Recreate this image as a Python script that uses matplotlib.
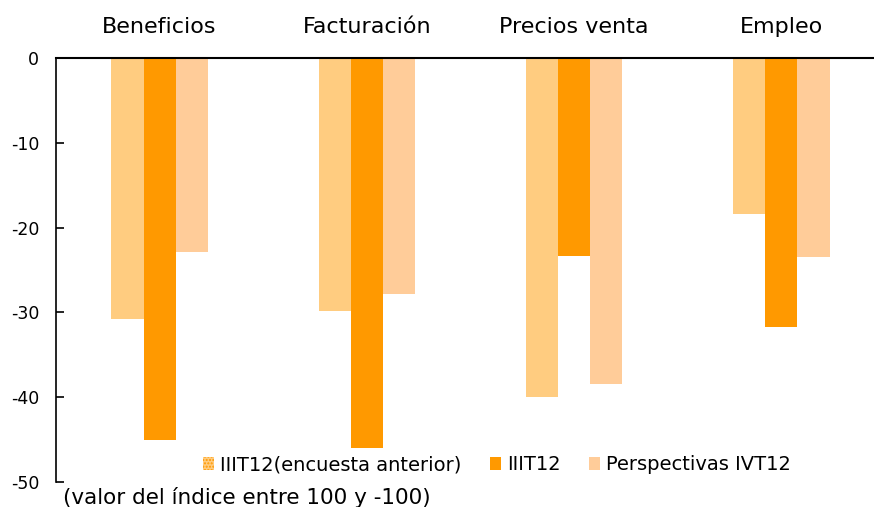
import matplotlib
matplotlib.use("Agg")
import matplotlib.pyplot as plt
import matplotlib.transforms as mtransforms
import numpy as np
from matplotlib.patches import Patch

categories = ["Beneficios", "Facturación", "Precios venta", "Empleo"]
series_names = ["IIIT12(encuesta anterior)", "IIIT12", "Perspectivas IVT12"]
s_prev = [-30.8, -29.8, -40.0, -18.4]
s_cur = [-45.1, -46.0, -23.3, -31.7]
s_persp = [-22.9, -27.8, -38.4, -23.5]
yticks = [0, -10, -20, -30, -40, -50]
note = "(valor del índice entre 100 y -100)"

colors = ["#FFCC80", "#FF9900", "#FFCC99"]

plt.rcParams['font.family'] = ['DejaVu Sans']
fig = plt.figure(figsize=(8.74, 5.07), dpi=100)
ax = fig.add_axes([56/874, 1-482/507, 829/874, (482-58)/507])

x = np.arange(len(categories))
w = 0.155
for k, (vals, c) in enumerate(zip([s_prev, s_cur, s_persp], colors)):
    ax.bar(x + (k-1)*w, vals, width=w, color=c, edgecolor='none', zorder=2)

ax.set_xlim(-0.5, 3.5)
ax.set_ylim(-50, 0)
ax.set_yticks(yticks)
ax.set_yticklabels([str(t) for t in yticks], fontsize=12.5)
ax.tick_params(axis='y', direction='in', length=6, width=1.2, pad=12)
ax.set_xticks([])
for s in ['right', 'bottom']:
    ax.spines[s].set_visible(False)
ax.spines['top'].set_linewidth(1.5)
ax.spines['left'].set_linewidth(1.2)

title_tr = mtransforms.blended_transform_factory(ax.transData, fig.transFigure)
for i, cat in enumerate(categories):
    ax.text(i, 1 - 27/507, cat, transform=title_tr, ha='center', va='center', fontsize=16)

handles = [Patch(facecolor=colors[0], edgecolor='#FF9900', hatch='.....', linewidth=0),
           Patch(facecolor=colors[1], edgecolor='none'),
           Patch(facecolor=colors[2], edgecolor='none')]
leg = fig.legend(handles, series_names, loc='center', bbox_to_anchor=(497/874, 1-465/507), ncol=3,
                 frameon=False, fontsize=14, handlelength=0.55, handleheight=0.6,
                 handletextpad=0.3, columnspacing=1.5, borderpad=0, borderaxespad=0)

fig.text(63/874, 1-497/507, note, fontsize=15.5, ha='left', va='center')

fig.savefig("out.png", dpi=100)
